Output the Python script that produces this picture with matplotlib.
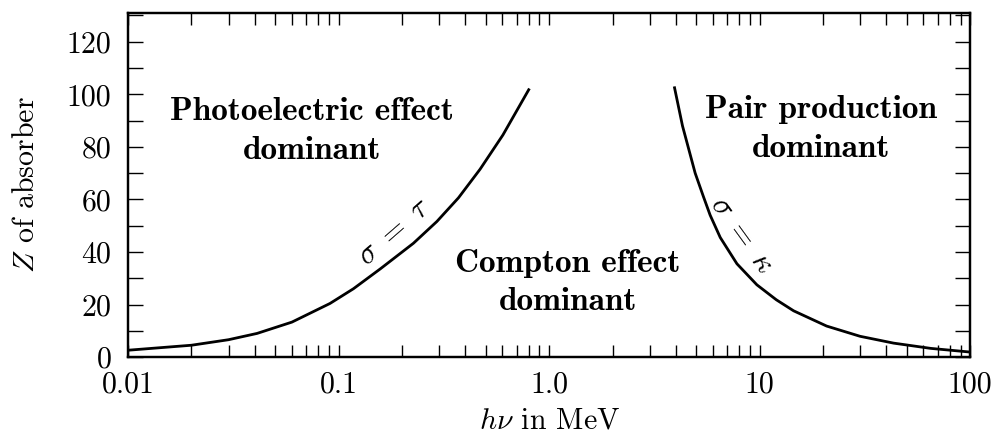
import matplotlib
matplotlib.use("Agg")
import matplotlib.pyplot as plt
from matplotlib.ticker import FixedLocator, NullFormatter, MultipleLocator

plt.rcParams["font.family"] = ["cmr10"]
plt.rcParams["mathtext.fontset"] = "cm"
plt.rcParams["axes.formatter.use_mathtext"] = True
plt.rcParams["font.size"] = 21.5

# boundary where photoelectric and Compton cross sections are equal (sigma = tau)
tau_energy = [0.01, 0.02, 0.03, 0.041, 0.06, 0.091, 0.1176, 0.158, 0.2266,
              0.293, 0.371, 0.47, 0.603, 0.806]
tau_z = [2.6, 4.5, 6.6, 9.0, 13.3, 20.4, 26.0, 33.6, 43.3,
         51.6, 60.6, 71.5, 84.5, 102.2]

# boundary where Compton and pair production cross sections are equal (sigma = kappa)
kappa_energy = [3.93, 4.3, 4.94, 5.41, 5.82, 6.5, 7.8, 9.7, 12.0, 14.5,
                20.8, 30.0, 43.3, 65.0, 100.0]
kappa_z = [103.0, 88.0, 70.0, 61.0, 54.0, 45.5, 35.5, 27.5, 21.8, 17.6,
           11.8, 7.9, 5.3, 3.3, 1.9]

x_ticks = [0.01, 0.1, 1.0, 10, 100]
x_tick_labels = ["0.01", "0.1", "1.0", "10", "100"]
y_ticks = [0, 20, 40, 60, 80, 100, 120]

fig = plt.figure(figsize=(9.93, 4.43), dpi=100)
ax = fig.add_axes([0.129, 0.194, 0.848, 0.777])

ax.plot(tau_energy, tau_z, color="black", lw=2.0, solid_capstyle="butt",
        solid_joinstyle="round")
ax.plot(kappa_energy, kappa_z, color="black", lw=2.0, solid_capstyle="butt",
        solid_joinstyle="round")

ax.set_xscale("log")
ax.set_xlim(0.01, 100)
ax.set_ylim(0, 131)

ax.xaxis.set_major_locator(FixedLocator(x_ticks))
ax.set_xticklabels(x_tick_labels)
minor_x = [m * d for d in [0.01, 0.1, 1, 10] for m in range(2, 10)]
ax.xaxis.set_minor_locator(FixedLocator(minor_x))
ax.xaxis.set_minor_formatter(NullFormatter())

ax.yaxis.set_major_locator(FixedLocator(y_ticks))
ax.set_yticklabels([str(v) for v in y_ticks])
ax.yaxis.set_minor_locator(MultipleLocator(10))

ax.tick_params(axis="x", which="both", direction="in", top=True, bottom=True,
               length=8.5, width=1.0, pad=10)
ax.tick_params(axis="y", which="both", direction="in", left=True, right=True,
               length=10.5, width=1.0, pad=12)

for side in ax.spines.values():
    side.set_linewidth(1.75)

ax.set_xlabel(r"$h\nu$ in MeV", labelpad=6)
ax.set_ylabel(r"$Z$ of absorber", labelpad=19)

bold = dict(family="cmb10", fontsize=24, ha="center", va="center",
            multialignment="center", linespacing=1.4)
ax.text(0.0746, 86.0, "Photoelectric effect\ndominant", **bold)
ax.text(1.224, 28.5, "Compton effect\ndominant", **bold)
ax.text(19.55, 86.8, "Pair production\ndominant", **bold)

ax.text(0.1855, 47.5, r"$\sigma\ =\ \tau$", fontsize=22, rotation=41,
        ha="center", va="center", rotation_mode="anchor")
ax.text(8.23, 46.5, r"$\sigma\ =\ \kappa$", fontsize=22, rotation=-54,
        ha="center", va="center", rotation_mode="anchor")

fig.savefig("out.png", dpi=100)
